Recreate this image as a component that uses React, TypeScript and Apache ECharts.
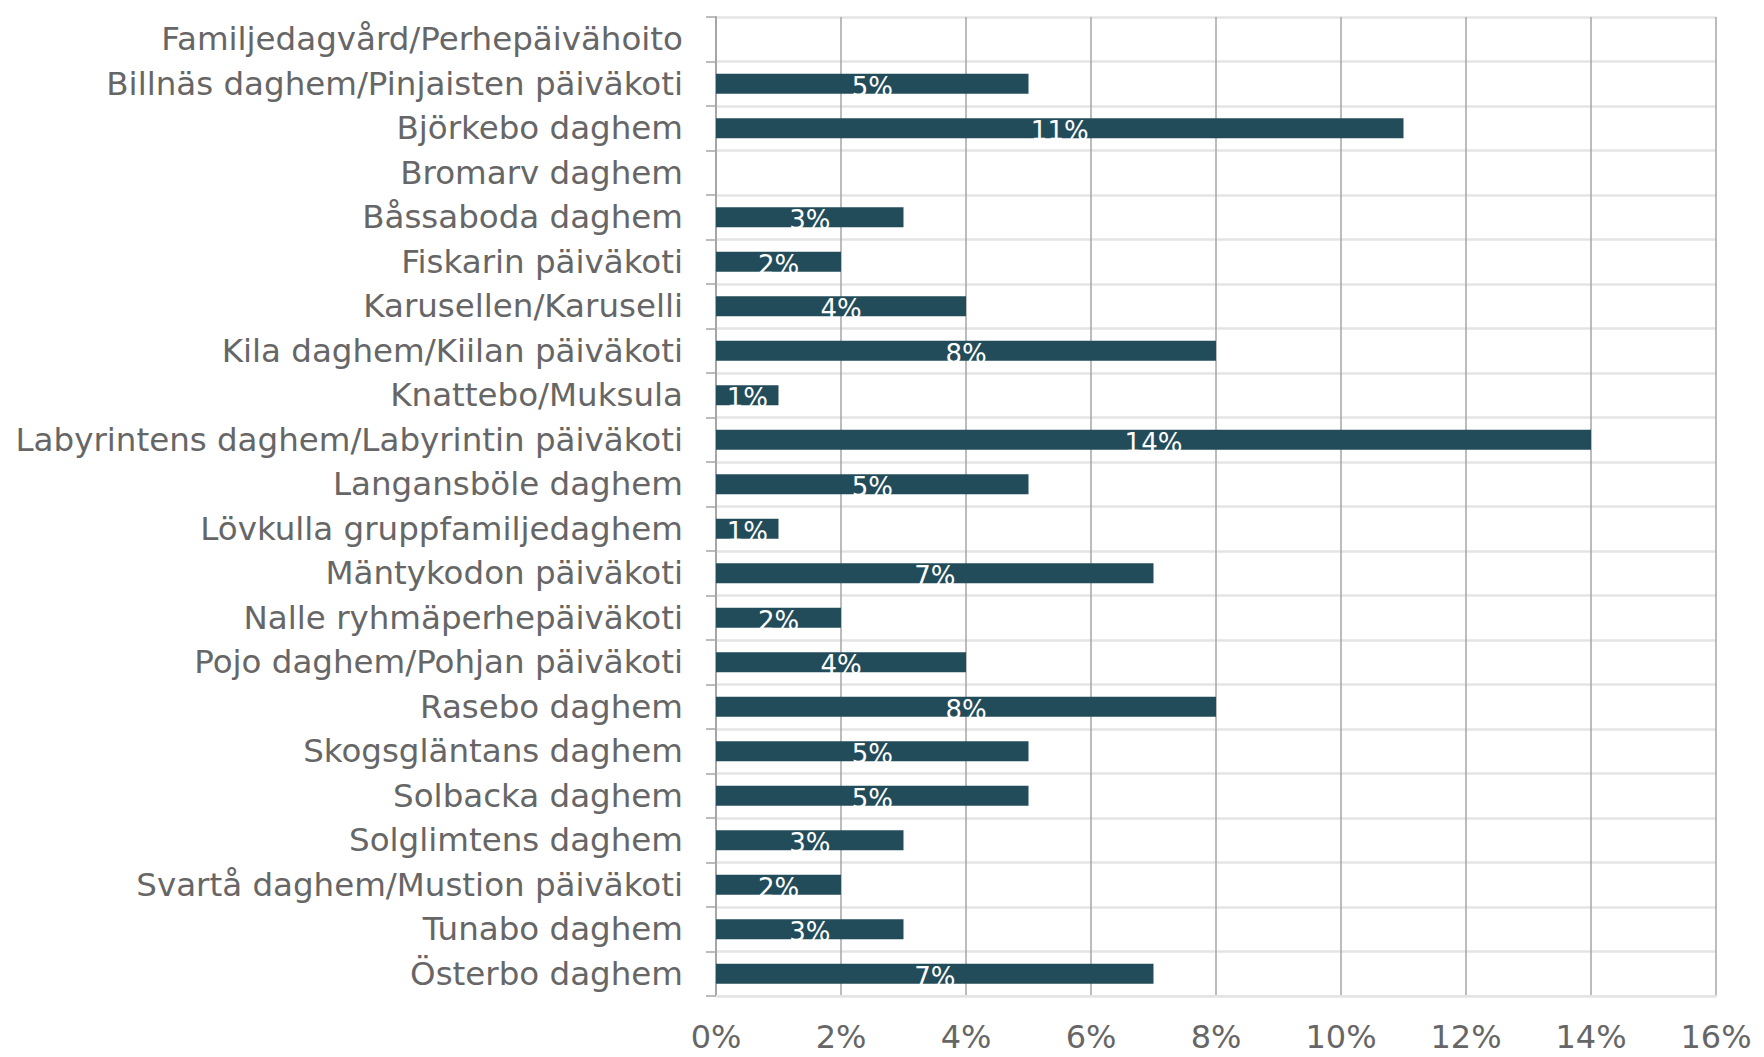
import React, { useEffect, useRef } from "react";
import * as echarts from "echarts";

const categories = [
  "Familjedagvård/Perhepäivähoito",
  "Billnäs daghem/Pinjaisten päiväkoti",
  "Björkebo daghem",
  "Bromarv daghem",
  "Båssaboda daghem",
  "Fiskarin päiväkoti",
  "Karusellen/Karuselli",
  "Kila daghem/Kiilan päiväkoti",
  "Knattebo/Muksula",
  "Labyrintens daghem/Labyrintin päiväkoti",
  "Langansböle daghem",
  "Lövkulla gruppfamiljedaghem",
  "Mäntykodon päiväkoti",
  "Nalle ryhmäperhepäiväkoti",
  "Pojo daghem/Pohjan päiväkoti",
  "Rasebo daghem",
  "Skogsgläntans daghem",
  "Solbacka daghem",
  "Solglimtens daghem",
  "Svartå daghem/Mustion päiväkoti",
  "Tunabo daghem",
  "Österbo daghem",
];

const values: (number | null)[] = [
  null, 5, 11, null, 3, 2, 4, 8, 1, 14, 5, 1, 7, 2, 4, 8, 5, 5, 3, 2, 3, 7,
];

const FONT = "'DejaVu Sans', 'Liberation Sans', Arial, sans-serif";

export default function App() {
  const ref = useRef<HTMLDivElement>(null);
  useEffect(() => {
    document.body.style.margin = "0";
    if (!ref.current) return;
    const chart = echarts.init(ref.current, null, { renderer: "svg" });
    chart.setOption({
      animation: false,
      backgroundColor: "#ffffff",
      grid: { left: 716, right: 48, top: 17, bottom: 61, containLabel: false },
      xAxis: {
        type: "value",
        min: 0,
        max: 16,
        interval: 2,
        axisLabel: {
          formatter: (v: number) => v + "%",
          color: "#666666",
          fontSize: 32,
          fontFamily: FONT,
          margin: 25,
        },
        axisLine: { show: true, lineStyle: { color: "#e4e4e4", width: 2 } },
        axisTick: { show: false },
        splitLine: { show: true, lineStyle: { color: "#a6a6a6", width: 1.5 } },
      },
      yAxis: {
        type: "category",
        data: categories,
        inverse: true,
        axisLabel: {
          color: "#666666",
          fontSize: 32.5,
          fontFamily: FONT,
          margin: 33,
        },
        axisLine: { show: true, lineStyle: { color: "#a6a6a6", width: 2 } },
        axisTick: { show: true, length: 10, lineStyle: { color: "#a6a6a6", width: 1.5 } },
        splitLine: { show: true, lineStyle: { color: "#e4e4e4", width: 2.5 } },
      },
      series: [
        {
          type: "bar",
          data: values,
          barWidth: "45%",
          itemStyle: { color: "#234c5a" },
          label: {
            show: true,
            position: "inside",
            formatter: (p: any) => (p.value == null ? "" : p.value + "%"),
            color: "#ffffff",
            fontSize: 26,
            fontFamily: FONT,
            offset: [0, 3],
          },
        },
      ],
    });
    return () => chart.dispose();
  }, []);
  return <div ref={ref} style={{ width: 1764, height: 1057 }} />;
}
